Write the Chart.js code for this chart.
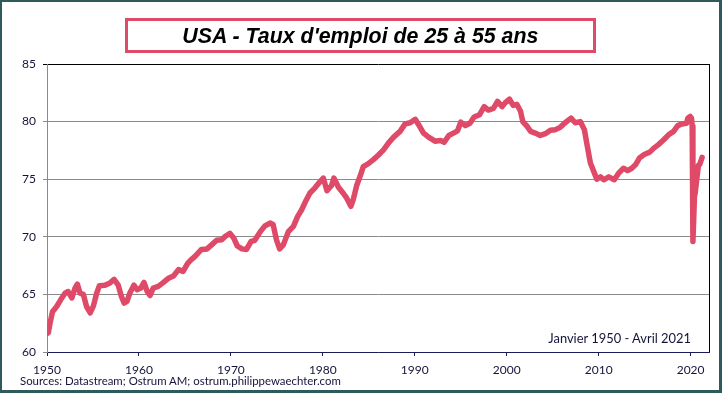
<!DOCTYPE html>
<html>
<head>
<meta charset="utf-8">
<script src="https://cdn.jsdelivr.net/npm/chart.js@4.4.0/dist/chart.umd.min.js"></script>
<style>
    body { margin: 0; background: #fff; }
    #wrap { position: relative; width: 722px; height: 393px; font-family: Lato, 'Open Sans', sans-serif; overflow: hidden; }
    #chart { position: absolute; left: 0; top: 0; }
    #frame { position: absolute; left: 0; top: 0; width: 722px; height: 393px; box-sizing: border-box;
             border: 2px solid #2E5A5C; border-right-width: 3px; border-bottom-width: 3px; pointer-events: none; }
    #title { position: absolute; left: 125px; top: 18px; width: 471px; height: 35px; box-sizing: border-box;
             border: 3px solid #DE4A67; display: flex; align-items: center; justify-content: center; }
    #title span { font: italic bold 22px 'Liberation Sans', Arial, sans-serif; white-space: nowrap; display: inline-block; color: #000; }
    #period { position: absolute; right: 31px; top: 330px; font-size: 12.9px; color: #14143a; white-space: nowrap; }
    #sources { position: absolute; left: 20px; top: 374px; font-size: 11.4px; color: #14143a; white-space: nowrap; }
</style>
</head>
<body>
<div id="wrap">
    <canvas id="chart" width="722" height="393"></canvas>
    <div id="title"><span>USA - Taux d'emploi de 25 à 55 ans</span></div>
    <div id="period">Janvier 1950 - Avril 2021</div>
    <div id="sources">Sources: Datastream; Ostrum AM; ostrum.philippewaechter.com</div>
    <div id="frame"></div>
</div>
<script>
// Dates (decimal years) and employment rate of the 25-55 year olds
const dates = [
    1950.0, 1950.15, 1950.33, 1950.6, 1951.05, 1951.5, 1951.96, 1952.3, 1952.7, 1953.05,
    1953.3, 1953.6, 1953.95, 1954.3, 1954.7, 1955.05, 1955.4, 1955.7, 1956.3, 1956.85,
    1957.3, 1957.75, 1958.1, 1958.4, 1958.7, 1959.0, 1959.45, 1959.8, 1960.2, 1960.55,
    1960.9, 1961.2, 1961.55, 1962.1, 1962.6, 1963.2, 1963.75, 1964.3, 1964.8, 1965.3,
    1965.6, 1966.1, 1966.8, 1967.4, 1967.9, 1968.45, 1969.0, 1969.4, 1969.9, 1970.3,
    1970.7, 1971.2, 1971.7, 1972.2, 1972.6, 1973.2, 1973.7, 1974.3, 1974.6, 1974.95,
    1975.3, 1975.7, 1976.25, 1976.8, 1977.25, 1977.7, 1978.2, 1978.6, 1979.15, 1979.7,
    1980.05, 1980.45, 1980.95, 1981.2, 1981.7, 1982.2, 1982.6, 1983.05, 1983.3, 1983.7,
    1984.05, 1984.4, 1984.95, 1985.5, 1986.05, 1986.6, 1987.15, 1987.7, 1988.4, 1988.95,
    1989.5, 1990.05, 1990.4, 1990.95, 1991.5, 1992.2, 1992.8, 1993.2, 1993.7, 1994.2,
    1994.65, 1995.0, 1995.5, 1996.0, 1996.45, 1997.05, 1997.55, 1998.0, 1998.55, 1999.0,
    1999.5, 1999.85, 2000.3, 2000.7, 2001.1, 2001.5, 2001.75, 2002.2, 2002.6, 2003.1,
    2003.65, 2004.2, 2004.75, 2005.3, 2005.8, 2006.35, 2007.0, 2007.45, 2008.0, 2008.45,
    2008.7, 2009.1, 2009.45, 2009.8, 2010.2, 2010.55, 2011.1, 2011.7, 2012.15, 2012.7,
    2013.15, 2013.6, 2014.0, 2014.45, 2014.95, 2015.55, 2016.0, 2016.5, 2017.05, 2017.6,
    2018.15, 2018.6, 2019.05, 2019.55, 2019.7, 2019.95, 2020.1, 2020.17, 2020.25, 2020.33,
    2020.42, 2020.5, 2020.67, 2020.85, 2021.0, 2021.25
];
const rates = [
    61.6, 61.7, 62.5, 63.5, 63.95, 64.55, 65.1, 65.25, 64.7, 65.55,
    65.9, 65.1, 65.0, 63.95, 63.4, 64.0, 65.1, 65.75, 65.8, 66.0,
    66.3, 65.8, 64.8, 64.25, 64.4, 65.1, 65.8, 65.4, 65.55, 66.05,
    65.25, 64.9, 65.55, 65.7, 66.0, 66.4, 66.6, 67.15, 67.0, 67.7,
    67.95, 68.3, 68.9, 68.95, 69.3, 69.7, 69.75, 70.05, 70.3, 69.9,
    69.2, 68.95, 68.9, 69.6, 69.7, 70.45, 70.95, 71.2, 71.05, 69.75,
    68.95, 69.3, 70.45, 70.9, 71.75, 72.35, 73.2, 73.8, 74.25, 74.8,
    75.1, 74.0, 74.45, 75.1, 74.3, 73.8, 73.35, 72.65, 73.2, 74.5,
    75.25, 76.1, 76.35, 76.7, 77.1, 77.55, 78.15, 78.65, 79.15, 79.8,
    79.9, 80.2, 79.75, 79.0, 78.65, 78.3, 78.35, 78.2, 78.8, 79.0,
    79.2, 79.95, 79.65, 79.85, 80.4, 80.6, 81.3, 81.0, 81.15, 81.75,
    81.3, 81.65, 81.95, 81.4, 81.5, 80.9, 80.0, 79.6, 79.15, 79.0,
    78.8, 78.95, 79.25, 79.3, 79.5, 79.9, 80.3, 79.9, 80.0, 79.3,
    78.15, 76.4, 75.7, 75.0, 75.2, 74.95, 75.2, 74.95, 75.5, 75.95,
    75.75, 75.95, 76.25, 76.85, 77.15, 77.35, 77.7, 78.0, 78.4, 78.85,
    79.15, 79.65, 79.8, 79.85, 80.3, 80.45, 80.3, 79.6, 69.6, 71.4,
    73.5, 73.8, 75.0, 76.2, 76.3, 76.9
];
const xTicks = [1950, 1960, 1970, 1980, 1990, 2000, 2010, 2020];
const yTicks = [60, 65, 70, 75, 80, 85];

const lineColor = '#DE4A67';
const textColor = '#14143a';

// black right border of the plot area
const frameLines = {
    id: 'frameLines',
    afterDraw(chart) {
        const { ctx, chartArea: a } = chart;
        ctx.save();
        ctx.strokeStyle = '#000';
        ctx.lineWidth = 1;
        ctx.beginPath();
        ctx.moveTo(Math.round(a.right) + 0.5, a.top);
        ctx.lineTo(Math.round(a.right) + 0.5, a.bottom);
        ctx.stroke();
        ctx.restore();
    }
};

const points = dates.map((d, i) => ({ x: d, y: rates[i] }));

new Chart(document.getElementById('chart'), {
    type: 'line',
    data: {
        datasets: [{
            data: points,
            borderColor: lineColor,
            borderWidth: 5.5,
            pointRadius: 0,
            tension: 0,
            borderJoinStyle: 'round',
            borderCapStyle: 'round',
            fill: false
        }]
    },
    options: {
        responsive: false,
        animation: false,
        layout: { padding: { top: 64, right: 13, left: 0, bottom: 0 } },
        plugins: { legend: { display: false }, tooltip: { enabled: false } },
        scales: {
            x: {
                type: 'linear',
                min: 1950,
                max: 2022,
                afterFit: s => { s.height = 41; },
                afterBuildTicks: s => { s.ticks = xTicks.map(v => ({ value: v })); },
                ticks: {
                    callback: v => String(v),
                    color: textColor,
                    font: { family: 'Lato', size: 12 },
                    padding: 7,
                    maxRotation: 0
                },
                grid: { drawOnChartArea: false, drawTicks: true, tickLength: 4, color: '#1c1a5a' },
                border: { display: true, color: '#1c1a5a', width: 1 }
            },
            y: {
                min: 60,
                max: 85,
                afterFit: s => { s.width = 47; },
                afterBuildTicks: s => { s.ticks = yTicks.map(v => ({ value: v })); },
                ticks: {
                    color: textColor,
                    font: { family: 'Lato', size: 12 },
                    padding: 7
                },
                grid: {
                    color: c => (c.tick && c.tick.value === 85 ? '#000' : '#8a8a8a'),
                    tickLength: 4,
                    lineWidth: 1
                },
                border: { display: true, color: '#8a8a8a', width: 1 }
            }
        }
    },
    plugins: [frameLines]
});

// fit the title to the width it has in the reference
const titleSpan = document.querySelector('#title span');
const w = titleSpan.getBoundingClientRect().width;
titleSpan.style.transform = 'scaleX(' + (356 / w).toFixed(3) + ')';
</script>
</body>
</html>
